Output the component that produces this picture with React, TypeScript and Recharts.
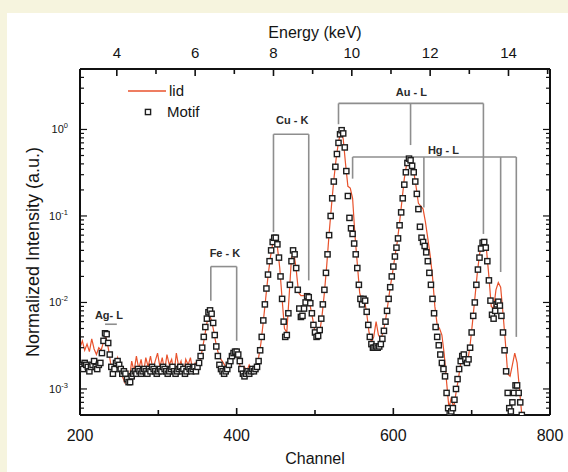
import React from "react";
import {
  ComposedChart,
  Line,
  Scatter,
  XAxis,
  YAxis,
  ReferenceLine,
  ReferenceDot,
} from "recharts";

// "lid" (red line): every 3 channels from channel 200 to 764
const LID_START = 200;
const LID_STEP = 3;
const lidValues = [
  0.003, 0.0036, 0.0028, 0.0033, 0.0027, 0.0038, 0.0029, 0.0025, 0.003, 0.0028,
  0.0035, 0.004, 0.003, 0.002, 0.0016, 0.0019, 0.0023, 0.0017, 0.0014, 0.0012,
  0.0016, 0.0013, 0.0021, 0.0016, 0.0024, 0.0017, 0.0022, 0.0015, 0.0023, 0.0018,
  0.0024, 0.0017, 0.0021, 0.0026, 0.0018, 0.0023, 0.0016, 0.0025, 0.0019, 0.0022,
  0.0015, 0.0026, 0.0018, 0.0021, 0.0014, 0.0022, 0.0019, 0.0023, 0.0016, 0.002,
  0.0018, 0.0021, 0.0028, 0.004, 0.0058, 0.0072, 0.0062, 0.0045, 0.0032, 0.0025,
  0.0022, 0.002, 0.0018, 0.002, 0.0022, 0.0025, 0.0027, 0.0024, 0.0019, 0.0015,
  0.0018, 0.0016, 0.0019, 0.0017, 0.0018, 0.0019, 0.0023, 0.0034, 0.006, 0.011,
  0.02, 0.033, 0.048, 0.055, 0.044, 0.025, 0.011, 0.005, 0.0045, 0.012,
  0.033, 0.038, 0.024, 0.013, 0.012, 0.012, 0.012, 0.011, 0.009, 0.0065,
  0.0045, 0.004, 0.0045, 0.007, 0.013, 0.027, 0.062, 0.13, 0.26, 0.46,
  0.72, 0.95, 0.78, 0.4, 0.22, 0.21, 0.16, 0.06, 0.028, 0.013,
  0.01, 0.011, 0.0075, 0.0045, 0.0035, 0.004, 0.006, 0.0042, 0.0038, 0.0045,
  0.0062, 0.0095, 0.015, 0.022, 0.034, 0.05, 0.085, 0.15, 0.27, 0.4,
  0.46, 0.42, 0.33, 0.22, 0.14, 0.13, 0.12, 0.085, 0.055, 0.035,
  0.02, 0.009, 0.0055, 0.005, 0.0042, 0.0025, 0.0012, 0.0006, 0.0008, 0.0006,
  0.0009, 0.0013, 0.002, 0.0026, 0.0022, 0.0021, 0.0032, 0.0058, 0.011, 0.021,
  0.036, 0.048, 0.05, 0.04, 0.02, 0.009, 0.0085, 0.014, 0.017, 0.015,
  0.0075, 0.0035, 0.0015, 0.0014, 0.0019, 0.0026, 0.002, 0.001, 0.0005,
];

// "Motif" (open squares): every 2 channels from channel 200 to 764
const MOTIF_START = 200;
const MOTIF_STEP = 2;
const motifValues = [
  // 200-226
  0.0019, 0.0018, 0.0017, 0.002, 0.0019, 0.0018, 0.0016, 0.0018, 0.0019, 0.0021, 0.0018, 0.0017, 0.0019, 0.002,
  // 228-258 (Ag-L)
  0.0026, 0.0036, 0.0044, 0.0043, 0.0034, 0.0025, 0.0018, 0.0015, 0.0017, 0.002, 0.0021, 0.0019, 0.0017, 0.0015, 0.0016, 0.0015,
  // 260-298
  0.0013, 0.0012, 0.0012, 0.0014, 0.0015, 0.0016, 0.0015, 0.0017, 0.0016, 0.0015,
  0.0016, 0.0017, 0.0016, 0.0015, 0.0017, 0.0016, 0.0018, 0.0017, 0.0016, 0.0015,
  // 300-348
  0.0016, 0.0017, 0.0016, 0.0018, 0.0017, 0.0016, 0.0015, 0.0016, 0.0017, 0.0018, 0.0016, 0.0015, 0.0016,
  0.0017, 0.0018, 0.0016, 0.0017, 0.0015, 0.0016, 0.0018, 0.0017, 0.0016, 0.0017, 0.0018, 0.0016,
  // 350-378 (Fe-K alpha)
  0.0018, 0.002, 0.0024, 0.003, 0.004, 0.0052, 0.0065, 0.0077, 0.0081, 0.0074, 0.0058, 0.0042, 0.0031, 0.0024, 0.0019,
  // 380-428 (Fe-K beta)
  0.0017, 0.0016, 0.0015, 0.0016, 0.0017, 0.0019, 0.0021, 0.0024, 0.0026, 0.0027, 0.0027, 0.0025, 0.0021,
  0.0017, 0.0015, 0.0014, 0.0015, 0.0016, 0.0015, 0.0016, 0.0017, 0.0016, 0.0017, 0.0018, 0.0021,
  // 430-464 (Cu-K alpha)
  0.0028, 0.004, 0.0062, 0.0095, 0.0145, 0.021, 0.03, 0.04, 0.05, 0.056, 0.056, 0.047, 0.033, 0.02, 0.011, 0.006, 0.004, 0.0042,
  // 466-498 (Cu-K beta)
  0.0075, 0.016, 0.03, 0.04, 0.036, 0.025, 0.014, 0.0085, 0.0068, 0.007, 0.0085, 0.01, 0.0118, 0.0115, 0.0098, 0.0075, 0.0055,
  // 500-534 (Au-L alpha)
  0.0045, 0.004, 0.0041, 0.0048, 0.0065, 0.0095, 0.014, 0.022, 0.036, 0.06, 0.1, 0.16, 0.25, 0.37, 0.52, 0.7, 0.88, 0.98,
  // 536-568
  0.9, 0.62, 0.33, 0.17, 0.095, 0.072, 0.062, 0.048, 0.036, 0.025, 0.016, 0.011, 0.0095, 0.011, 0.0105, 0.0078, 0.0055,
  // 570-598
  0.004, 0.0033, 0.003, 0.003, 0.0031, 0.003, 0.0031, 0.0033, 0.0038, 0.0047, 0.006, 0.008, 0.011, 0.015, 0.02,
  // 600-626 (Au-L beta)
  0.026, 0.034, 0.043, 0.055, 0.078, 0.11, 0.16, 0.23, 0.32, 0.41, 0.46, 0.44, 0.38, 0.32,
  // 628-660
  0.25, 0.18, 0.12, 0.075, 0.056, 0.05, 0.045, 0.038, 0.03, 0.022, 0.016, 0.011, 0.0075, 0.0052, 0.004, 0.0032, 0.0025,
  // 662-698
  0.002, 0.0017, 0.0014, 0.0009, 0.0006, 0.00052, 0.00055, 0.0006, 0.00075, 0.001,
  0.0013, 0.0017, 0.0021, 0.0024, 0.0025, 0.0022, 0.002, 0.0022, 0.003,
  // 700-726 (Au-L gamma)
  0.0045, 0.007, 0.01, 0.016, 0.024, 0.033, 0.042, 0.049, 0.05, 0.043, 0.03, 0.018, 0.0105, 0.0072,
  // 728-764
  0.0065, 0.008, 0.0095, 0.0102, 0.0092, 0.007, 0.0045, 0.0028, 0.0016, 0.0009,
  0.0006, 0.00055, 0.0007, 0.0009, 0.0011, 0.0011, 0.0009, 0.0007, 0.0005,
];

const channelTicks = [200, 300, 400, 500, 600, 700, 800];
const channelLabels = [200, 400, 600, 800];
const energyTicks = [4, 5, 6, 7, 8, 9, 10, 11, 12, 13, 14, 15];
const energyLabels = [4, 6, 8, 10, 12, 14];
const decades = [1e-4, 1e-3, 1e-2, 1e-1, 1];
const labelledExponents = [-3, -2, -1, 0];

// line brackets marking the emission lines: [x1, y1, x2, y2] in channel / intensity
const brackets = [
  [530, 2.0, 715, 2.0],
  [530, 2.0, 530, 1.15],
  [622, 2.0, 622, 0.66],
  [715, 2.0, 715, 0.062],
  [548, 0.48, 757, 0.48],
  [548, 0.48, 548, 0.27],
  [639, 0.48, 639, 0.125],
  [737, 0.48, 737, 0.0225],
  [757, 0.48, 757, 0.004],
  [447, 0.88, 492, 0.88],
  [447, 0.88, 447, 0.065],
  [492, 0.88, 492, 0.018],
  [367, 0.026, 400, 0.026],
  [367, 0.026, 367, 0.0105],
  [400, 0.026, 400, 0.0036],
  [232, 0.0056, 247, 0.0056],
];

const bracketLabels = [
  { text: "Au - L", ch: 623, v: 2.7 },
  { text: "Hg - L", ch: 664, v: 0.58 },
  { text: "Cu - K", ch: 471, v: 1.27 },
  { text: "Fe - K", ch: 385, v: 0.037 },
  { text: "Ag- L", ch: 237, v: 0.0071 },
];

const lidData = lidValues.map((v, i) => ({ ch: LID_START + i * LID_STEP, v }));
const motifData = motifValues.map((v, i) => ({ ch: MOTIF_START + i * MOTIF_STEP, v }));

const yTicks = decades
  .flatMap((d) => [1, 2, 3, 4, 5, 6, 7, 8, 9].map((m) => m * d))
  .filter((t) => t >= 5e-4 * 0.999 && t <= 5 * 1.001);

// calibration: 50 channels per keV, 8 keV at channel 447
const toChannel = (e: number) => 447 + (e - 8) * 50;
const toEnergy = (ch: number) => Math.round(((ch - 447) / 50 + 8) * 100) / 100;
const energyTickChannels = energyTicks.map(toChannel);

const FONT = "'Liberation Sans', Arial, Helvetica, sans-serif";
const INK = "#141414";
const AXIS = "#111";
const RED = "#e8522c";

function BottomTick(props: any) {
  const { x, y, payload } = props;
  const major = channelLabels.includes(payload.value);
  return (
    <g>
      <line x1={x} x2={x} y1={y} y2={y - (major ? 7 : 5)} stroke={AXIS} strokeWidth={1.6} />
      {major && (
        <text x={x} y={y + 26} textAnchor="middle" fontSize={16} fontFamily={FONT} fill={INK}>
          {payload.value}
        </text>
      )}
    </g>
  );
}

function TopTick(props: any) {
  const { x, y, payload } = props;
  const e = toEnergy(payload.value);
  const major = energyLabels.includes(e);
  return (
    <g>
      <line x1={x} x2={x} y1={y} y2={y + (major ? 7 : 5)} stroke={AXIS} strokeWidth={1.6} />
      {major && (
        <text x={x} y={y - 11} textAnchor="middle" fontSize={15} fontFamily={FONT} fill={INK}>
          {e}
        </text>
      )}
    </g>
  );
}

function isDecade(v: number) {
  const e = Math.round(Math.log10(v));
  return Math.abs(Math.log10(v) - e) < 1e-6 ? e : null;
}

function LeftTick(props: any) {
  const { x, y, payload } = props;
  const e = isDecade(payload.value);
  const len = e !== null ? 7 : 4;
  return (
    <g>
      <line x1={x} x2={x + len} y1={y} y2={y} stroke={AXIS} strokeWidth={1.2} />
      {e !== null && labelledExponents.includes(e) && (
        <text x={x - 12} y={y + 4} textAnchor="end" fontSize={11} fontFamily={FONT} fill={INK}>
          <tspan>10</tspan>
          <tspan dy={-5} fontSize={7.5}>{e}</tspan>
        </text>
      )}
    </g>
  );
}

function RightTick(props: any) {
  const { x, y, payload } = props;
  const len = isDecade(payload.value) !== null ? 7 : 4;
  return <line x1={x} x2={x - len} y1={y} y2={y} stroke={AXIS} strokeWidth={1.2} />;
}

function SquareMark(props: any) {
  const { cx, cy } = props;
  if (cx == null || cy == null) return null;
  return (
    <rect x={cx - 2.6} y={cy - 2.6} width={5.2} height={5.2} fill="#fff" stroke="#1e1e1e" strokeWidth={1.4} />
  );
}

function BracketText(props: any) {
  const { viewBox, value } = props;
  const cx = viewBox.x + viewBox.width / 2;
  const cy = viewBox.y + viewBox.height / 2;
  return (
    <text x={cx} y={cy + 4} textAnchor="middle" fontSize={11} fontWeight="bold" fontFamily={FONT} fill="#2a2a2a">
      {value}
    </text>
  );
}

export default function App() {
  return (
    <div style={{ position: "absolute", left: 0, top: 0, width: 568, height: 472, background: "#f6f4de", overflow: "hidden" }}>
      <div style={{ position: "absolute", left: 7, top: 13, right: 0, bottom: 0, background: "#fff" }} />
      <div style={{ position: "absolute", left: 0, top: 0 }}>
        <ComposedChart width={568} height={472} margin={{ top: 0, right: 0, bottom: 0, left: 0 }}>
          <XAxis
            xAxisId="ch"
            dataKey="ch"
            type="number"
            domain={[200, 800]}
            ticks={channelTicks}
            interval={0}
            allowDataOverflow
            height={57}
            tickSize={0}
            tickMargin={0}
            tickLine={false}
            tick={(p: any) => <BottomTick {...p} />}
            axisLine={{ stroke: AXIS, strokeWidth: 2 }}
          />
          {/* energy scale on top: same channel axis, ticks placed at the calibrated energies */}
          <XAxis
            xAxisId="top"
            dataKey="ch"
            orientation="top"
            type="number"
            domain={[200, 800]}
            ticks={energyTickChannels}
            interval={0}
            allowDataOverflow
            height={69}
            tickSize={0}
            tickMargin={0}
            tickLine={false}
            tick={(p: any) => <TopTick {...p} />}
            axisLine={{ stroke: AXIS, strokeWidth: 2 }}
          />
          <YAxis
            yAxisId="l"
            dataKey="v"
            type="number"
            scale="log"
            domain={[5e-4, 5]}
            ticks={yTicks}
            interval={0}
            allowDataOverflow
            width={80}
            tickSize={0}
            tickMargin={0}
            tickLine={false}
            tick={(p: any) => <LeftTick {...p} />}
            axisLine={{ stroke: AXIS, strokeWidth: 2 }}
          />
          <YAxis
            yAxisId="r"
            dataKey="v"
            orientation="right"
            type="number"
            scale="log"
            domain={[5e-4, 5]}
            ticks={yTicks}
            interval={0}
            allowDataOverflow
            width={18}
            tickSize={0}
            tickMargin={0}
            tickLine={false}
            tick={(p: any) => <RightTick {...p} />}
            axisLine={{ stroke: AXIS, strokeWidth: 2 }}
          />

          {brackets.map(([x1, y1, x2, y2], i) => (
            <ReferenceLine
              key={`b${i}`}
              xAxisId="ch"
              yAxisId="l"
              segment={[{ x: x1, y: y1 }, { x: x2, y: y2 }]}
              stroke="#8e8e8e"
              strokeWidth={1.6}
              ifOverflow="visible"
            />
          ))}

          {/* lid is plotted against the top/right pair, which share the same scales */}
          <Line
            xAxisId="top"
            yAxisId="r"
            data={lidData}
            dataKey="v"
            type="linear"
            stroke={RED}
            strokeWidth={1.2}
            dot={false}
            isAnimationActive={false}
          />
          <Scatter
            xAxisId="ch"
            yAxisId="l"
            data={motifData}
            dataKey="v"
            shape={(p: any) => <SquareMark {...p} />}
            isAnimationActive={false}
          />

          {bracketLabels.map((b) => (
            <ReferenceDot
              key={b.text}
              xAxisId="ch"
              yAxisId="l"
              x={b.ch}
              y={b.v}
              r={0}
              fill="none"
              stroke="none"
              ifOverflow="visible"
              label={(p: any) => <BracketText {...p} value={b.text} />}
            />
          ))}
        </ComposedChart>
      </div>

      {/* axis titles */}
      <div style={{ position: "absolute", left: 315, top: 33, transform: "translate(-50%, -50%)", fontFamily: FONT, fontSize: 16, color: INK, whiteSpace: "nowrap" }}>
        Energy (keV)
      </div>
      <div style={{ position: "absolute", left: 315, top: 459, transform: "translate(-50%, -50%)", fontFamily: FONT, fontSize: 16, color: INK, whiteSpace: "nowrap" }}>
        Channel
      </div>
      <div style={{ position: "absolute", left: 33, top: 252, transform: "translate(-50%, -50%) rotate(-90deg)", fontFamily: FONT, fontSize: 18, color: INK, whiteSpace: "nowrap" }}>
        Normalized Intensity (a.u.)
      </div>

      {/* legend */}
      <svg style={{ position: "absolute", left: 120, top: 80 }} width={110} height={44}>
        <line x1={8} x2={46} y1={11} y2={11} stroke={RED} strokeWidth={1.4} />
        <text x={49} y={16} fontSize={15} fontFamily={FONT} fill={INK}>lid</text>
        <rect x={25.4} y={29.4} width={5.2} height={5.2} fill="#fff" stroke="#1e1e1e" strokeWidth={1.4} />
        <text x={47} y={37} fontSize={15} fontFamily={FONT} fill={INK}>Motif</text>
      </svg>
    </div>
  );
}
